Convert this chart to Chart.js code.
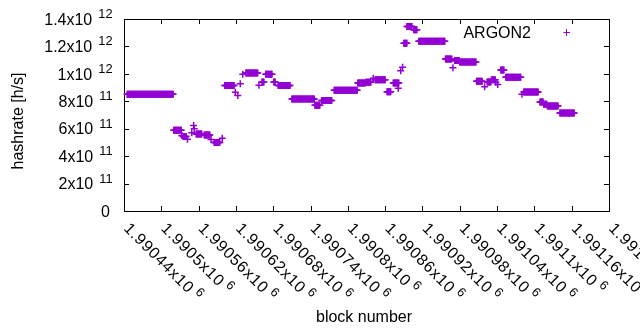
<!DOCTYPE html>
<html><head><meta charset="utf-8">
<script src="https://cdn.jsdelivr.net/npm/chart.js@4/dist/chart.umd.min.js"></script>
<style>html,body{margin:0;padding:0;background:#fff;}canvas{display:block;}</style>
</head><body>
<canvas id="c" width="640" height="330"></canvas>
<script>
// ---- data ----
// runs of consecutive blocks that share the same hashrate estimate
const runStart = [1990445,1990520,1990533,1990535,1990542,1990549,1990552,1990553,1990556,1990569,1990580,1990585,1990598,1990602,1990619,1990623,1990627,1990631,1990636,1990657,1990662,1990668,1990681,1990688,1990710,1990747,1990758,1990778,1990816,1990829,1990841,1990844,1990863,1990873,1990881,1990885,1990888,1990890,1990895,1990906,1990914,1990957,1990969,1990972,1990980,1991007,1991020,1991024,1991031,1991038,1991041,1991046,1991054,1991080,1991083,1991109,1991115,1991121,1991141];
const runEnd   = [1990519,1990532,1990533,1990540,1990542,1990549,1990552,1990553,1990565,1990578,1990580,1990594,1990598,1990617,1990619,1990623,1990627,1990631,1990655,1990657,1990665,1990678,1990683,1990707,1990746,1990755,1990774,1990815,1990828,1990837,1990841,1990860,1990869,1990882,1990881,1990885,1990888,1990895,1990903,1990911,1990956,1990967,1990969,1990979,1991006,1991016,1991020,1991030,1991037,1991038,1991041,1991051,1991078,1991080,1991106,1991114,1991120,1991138,1991164];
const runHashrate = [852e9,588e9,550e9,543e9,524e9,570e9,623e9,599e9,562e9,555e9,522e9,500e9,531e9,915e9,865e9,843e9,927e9,997e9,1006e9,917e9,940e9,998e9,940e9,915e9,816e9,772e9,806e9,880e9,933e9,938e9,968e9,957e9,869e9,933e9,895e9,1022e9,1048e9,1223e9,1346e9,1322e9,1238e9,1108e9,1044e9,1098e9,1086e9,946e9,906e9,940e9,957e9,938e9,922e9,1028e9,976e9,852e9,867e9,794e9,778e9,765e9,714e9];
const seriesName = 'ARGON2';
const xTickValues = [1990440,1990500,1990560,1990620,1990680,1990740,1990800,1990860,1990920,1990980,1991040,1991100,1991160,1991220];
const xTickLabels = ['1.99044','1.9905','1.99056','1.99062','1.99068','1.99074','1.9908','1.99086','1.99092','1.99098','1.99104','1.9911','1.99116','1.99122'];
const xTickExp = '6';
const yTickValues = [0,2e11,4e11,6e11,8e11,1e12,1.2e12,1.4e12];
const yTickLabels = ['0','2','4','6','8','1','1.2','1.4'];
const yTickExps   = ['','11','11','11','11','12','12','12'];

// one point per block of each run
const points = [];
runStart.forEach((s, i) => { for (let b = s; b <= runEnd[i]; b++) points.push({x: b, y: runHashrate[i]}); });

const FONT = '"Liberation Sans", Arial, Helvetica, sans-serif';
const PURPLE = '#9400D3';

// draws text char by char with extra spacing, returns advance
function spacedText(ctx, str, x, y, sp) {
  let cx = x;
  for (const ch of str) { ctx.fillText(ch, cx, y); cx += ctx.measureText(ch).width + sp; }
  return cx - x;
}

const gp = {
  id: 'gp',
  beforeDatasetsDraw(chart) {
    const {ctx, chartArea: a, scales: {x, y}} = chart;
    ctx.save();
    ctx.strokeStyle = '#000'; ctx.lineWidth = 1;
    ctx.beginPath();
    yTickValues.forEach(v => {
      const py = Math.round(y.getPixelForValue(v)) + 0.5;
      ctx.moveTo(a.left, py); ctx.lineTo(a.left + 5, py);
      ctx.moveTo(a.right, py); ctx.lineTo(a.right - 5, py);
    });
    xTickValues.forEach(v => {
      const px = Math.round(x.getPixelForValue(v)) + 0.5;
      ctx.moveTo(px, a.bottom); ctx.lineTo(px, a.bottom - 5);
      ctx.moveTo(px, a.top); ctx.lineTo(px, a.top + 5);
    });
    ctx.stroke();
    ctx.strokeRect(Math.round(a.left) + 0.5, Math.round(a.top) + 0.5, Math.round(a.right - a.left), Math.round(a.bottom - a.top));

    ctx.fillStyle = '#000';
    ctx.textBaseline = 'alphabetic';
    ctx.textAlign = 'left';
    // y tick labels
    yTickValues.forEach((v, i) => {
      const py = y.getPixelForValue(v) + 5.7;
      ctx.font = '16px ' + FONT;
      if (!yTickExps[i]) {
        const w0 = ctx.measureText(yTickLabels[i]).width;
        ctx.fillText(yTickLabels[i], 110 - w0, py); return;
      }
      const base = yTickLabels[i] + 'x10';
      const wb = ctx.measureText(base).width;
      ctx.font = '12.8px ' + FONT;
      const we = ctx.measureText(yTickExps[i]).width;
      const x0 = 112.5 - we - 6 - wb;
      ctx.font = '16px ' + FONT;
      ctx.fillText(base, x0, py);
      ctx.font = '12.8px ' + FONT;
      ctx.fillText(yTickExps[i], x0 + wb + 6, py - 6.7);
    });
    // x tick labels, rotated
    xTickValues.forEach((v, i) => {
      const px = x.getPixelForValue(v);
      ctx.save();
      ctx.translate(px - 1, 229.3);
      ctx.rotate(Math.PI / 4);
      ctx.font = '16px ' + FONT;
      const wb = spacedText(ctx, xTickLabels[i] + 'x10', 0, 0, 0.8);
      ctx.font = '12.8px ' + FONT;
      ctx.fillText(xTickExp, wb + 4, -6);
      ctx.restore();
    });
    // axis titles
    ctx.font = '16px ' + FONT;
    ctx.textAlign = 'center';
    ctx.fillText('block number', 364, 321.5);
    ctx.save();
    ctx.translate(22.5, 121);
    ctx.rotate(-Math.PI / 2);
    ctx.fillText('hashrate [h/s]', 0, 0);
    ctx.restore();
    // legend
    ctx.textAlign = 'right';
    ctx.fillText(seriesName, 531, 37.5);
    ctx.strokeStyle = PURPLE; ctx.lineWidth = 1;
    ctx.beginPath();
    ctx.moveTo(563.5, 32.5); ctx.lineTo(570, 32.5);
    ctx.moveTo(566.5, 29); ctx.lineTo(566.5, 36);
    ctx.stroke();
    ctx.restore();
  }
};

new Chart(document.getElementById('c'), {
  type: 'scatter',
  data: { datasets: [{
    label: seriesName,
    data: points,
    pointStyle: 'cross',
    pointRadius: 3.5,
    pointHoverRadius: 3.5,
    borderColor: PURPLE,
    backgroundColor: PURPLE,
    borderWidth: 1.5,
    clip: 8
  }]},
  options: {
    responsive: false,
    animation: false,
    events: [],
    devicePixelRatio: 1,
    layout: { padding: { left: 124, right: 31, top: 19, bottom: 119 } },
    plugins: { legend: { display: false }, tooltip: { enabled: false } },
    scales: {
      x: { type: 'linear', display: false, min: 1990440, max: 1991220 },
      y: { type: 'linear', display: false, min: 0, max: 1.4e12 }
    }
  },
  plugins: [gp]
});
</script>
</body></html>
